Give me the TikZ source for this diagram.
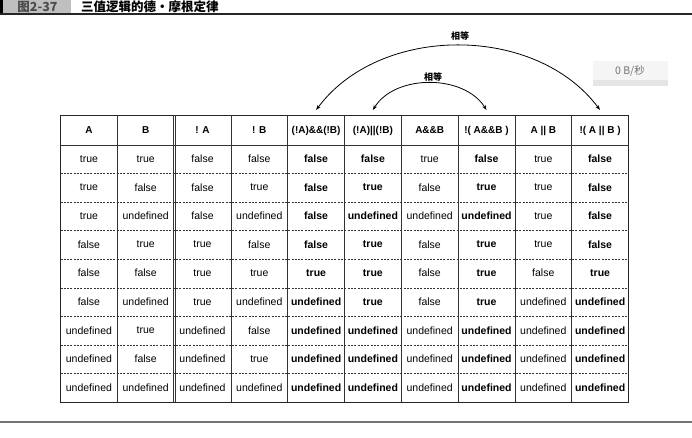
\documentclass[tikz,border=0pt]{standalone}
\usepackage{fontspec}
\setmainfont{Liberation Sans}
\newfontfamily\cjk{Noto Sans CJK SC}
\usetikzlibrary{arrows.meta}
\tikzset{
  cell/.style={inner sep=0pt, font=\fontsize{10.5}{12}\selectfont},
  head/.style={inner sep=0pt, font=\fontsize{10}{12}\selectfont\bfseries},
  col1/.style={}, col2/.style={}, col3/.style={}, col4/.style={},
  col5/.style={font=\fontsize{10.5}{12}\selectfont\bfseries},
  col6/.style={font=\fontsize{10.5}{12}\selectfont\bfseries},
  col7/.style={},
  col8/.style={font=\fontsize{10.5}{12}\selectfont\bfseries},
  col9/.style={},
  col10/.style={font=\fontsize{10.5}{12}\selectfont\bfseries},
  frame/.style={line width=0.9pt, black!85},
  vline/.style={line width=0.7pt, black!80},
  dline/.style={line width=0.5pt, black!80, dash pattern=on 2pt off 1.3pt},
  arc/.style={line width=0.8pt, {Stealth[length=5pt,width=3.6pt]}-{Stealth[length=5pt,width=3.6pt]}},
  eqlabel/.style={font=\cjk\bfseries\fontsize{9}{10}\selectfont, inner sep=1pt}
}
\begin{document}
\begin{tikzpicture}[x=1pt,y=-1pt]
\useasboundingbox (0,0) rectangle (692,438);
\fill[white] (0,0) rectangle (692,438);
% title bar
\fill[black] (0,0) rectangle (3,13);
\fill[gray!50] (3,0) rectangle (71,13);
\node[font=\fontsize{12.5}{12}\selectfont\bfseries, text=black!70, inner sep=0pt] (fig) at (37.5,6.5) {\cjk 图2-37};
\node[font=\cjk\bfseries\fontsize{12.5}{13}\selectfont, anchor=west, inner sep=0pt] (title) at (81,6.6) {三值逻辑的德・摩根定律};
\draw[line width=1.2pt, black!85] (0,14) -- (692,14);
% speed overlay
\fill[gray!8] (593,61) rectangle (668,86);
\fill[gray!20] (593,80) rectangle (668,86);
\node[font=\cjk\fontsize{10.5}{12}\selectfont, text=black!55, inner sep=0pt] (speed) at (630,71) {0 B/秒};
% table frame and lines
\draw[frame] (60.5,115.5) rectangle (628.5,402);
\draw[vline] (60.5,145) -- (628.5,145);
\foreach \k in {1,...,8} {
  \draw[dline] (60.5,145+\k*28.55) -- (628.5,145+\k*28.55);
}
\foreach \k in {1,3,4,5,6,7,8,9} {
  \draw[vline] (60.5+\k*56.8,115.5) -- (60.5+\k*56.8,402);
}
\draw[vline] (173.1,115.5) -- (173.1,402);
\draw[vline] (175.3,115.5) -- (175.3,402);
% headers
\foreach \h [count=\c] in {A,B,! A,! B,(!A)\&\&(!B),(!A)||(!B),A\&\&B,!( A\&\&B ),A || B,!( A || B )} {
  \node[head] (h\c) at (60.5+\c*56.8-28.4,130.5) {\h};
}
% body
\foreach \row [count=\r] in {
 {true,true,false,false,false,false,true,false,true,false},
 {true,false,false,true,false,true,false,true,true,false},
 {true,undefined,false,undefined,false,undefined,undefined,undefined,true,false},
 {false,true,true,false,false,true,false,true,true,false},
 {false,false,true,true,true,true,false,true,false,true},
 {false,undefined,true,undefined,undefined,true,false,true,undefined,undefined},
 {undefined,true,undefined,false,undefined,undefined,undefined,undefined,undefined,undefined},
 {undefined,false,undefined,true,undefined,undefined,undefined,undefined,undefined,undefined},
 {undefined,undefined,undefined,undefined,undefined,undefined,undefined,undefined,undefined,undefined}} {
  \foreach \v [count=\c] in \row {
    \node[cell, col\c] (c-\r-\c) at (60.5+\c*56.8-28.4,145+\r*28.55-14.6) {\v};
  }
}
% arcs
\coordinate (a5) at (316.1,110);
\coordinate (a6) at (372.9,110);
\coordinate (a8) at (486.5,110);
\coordinate (a10) at (600,110);
\draw[arc] (a5) .. controls (380,24) and (536,24) .. (a10);
\draw[arc] (a6) .. controls (395,74) and (464,74) .. (a8);
\node[eqlabel] (eq1) at (460,36) {相等};
\node[eqlabel] (eq2) at (433,77) {相等};
% bottom rule
\draw[line width=1.4pt, black!55] (0,422) -- (692,422);
\end{tikzpicture}
\end{document}
